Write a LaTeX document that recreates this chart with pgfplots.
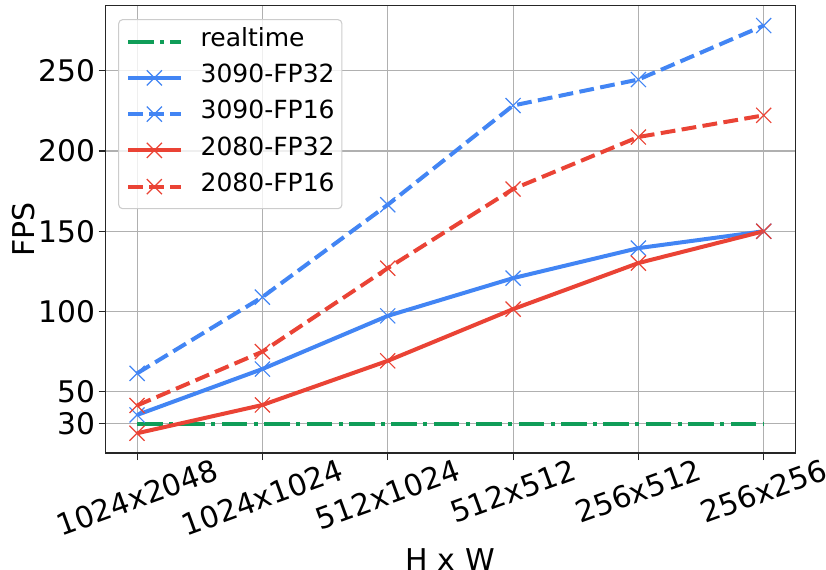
\documentclass[border=0pt]{standalone}
\usepackage{fontspec}
\setmainfont{DejaVu Sans}
\usepackage{graphicx}
\usepackage{pgfplots}
\pgfplotsset{compat=1.18}
\definecolor{gblue}{HTML}{4285F4}
\definecolor{gred}{HTML}{EA4335}
\definecolor{ggreen}{HTML}{0F9D58}
\definecolor{gridgray}{HTML}{B0B0B0}
\begin{document}
\begin{tikzpicture}
\path[use as bounding box] (-79.3pt,-87pt) rectangle (540.2pt,339.75pt);
\begin{axis}[
  at={(0pt,0pt)}, anchor=south west,
  scale only axis, width=517pt, height=335.5pt,
  xmin=-0.25, xmax=5.25, ymin=11.9, ymax=290.5,
  xtick={0,1,2,3,4,5},
  xticklabels={\rotatebox{20}{1024x2048},\rotatebox{20}{1024x1024},\rotatebox{20}{512x1024},\rotatebox{20}{512x512},\rotatebox{20}{256x512},\rotatebox{20}{256x256}},
  ytick={30,50,100,150,200,250},
  grid=major, grid style={gridgray, line width=0.8pt},
  axis line style={black!85, line width=0.8pt},
  tick style={black!85, line width=0.8pt},
  tick align=outside, major tick length=5.25pt,
  xtick pos=bottom, ytick pos=left,
  /pgf/number format/assume math mode=true,
  ticklabel style={font=\fontsize{22.3}{26}\selectfont},
  xticklabel style={anchor=north, inner sep=0pt, yshift=1.5pt},
  yticklabel style={anchor=east, inner sep=0pt, xshift=-2.5pt},
  ylabel={FPS}, xlabel={H x W},
  every axis y label/.style={at={(axis description cs:-0.1186,0.5)}, anchor=center, rotate=90, font=\fontsize{22.5}{26}\selectfont},
  every axis x label/.style={at={(axis description cs:0.5,-0.2625)}, anchor=base, font=\fontsize{22.5}{26}\selectfont},
  legend style={at={(axis description cs:0.018,0.970)}, anchor=north west,
    draw=black!20, line width=0.8pt, fill=white, fill opacity=0.8, draw opacity=1, text opacity=1,
    rounded corners=3pt, font=\fontsize{18.75}{22}\selectfont,
    inner xsep=5.5pt, inner ysep=7pt, row sep=8.2pt, column sep=13.5pt,
    nodes={inner sep=0pt, text height=13pt, text depth=6pt}},
  legend cell align=left,
  legend image code/.code={\draw[mark repeat=2,mark phase=2,#1] plot coordinates {(0pt,0pt)(19.75pt,0pt)(39.5pt,0pt)};},
]
\addplot[ggreen, line width=3pt, dash pattern=on 19.2pt off 4.8pt on 3pt off 4.8pt]
  coordinates {(0,30)(1,30)(2,30)(3,30)(4,30)(5,30)};
\addlegendentry{realtime}
\addplot[gblue, line width=3pt, mark=x, mark size=8pt, mark options={solid, line width=0.9pt}]
  coordinates {(0,35.6)(1,64.2)(2,97.3)(3,120.8)(4,139.5)(5,150)};
\addlegendentry{3090-FP32}
\addplot[gblue, line width=3pt, dash pattern=on 11.1pt off 4.8pt, mark=x, mark size=8pt, mark options={solid, line width=0.9pt}]
  coordinates {(0,61.5)(1,109)(2,166.5)(3,228.3)(4,244.5)(5,278.1)};
\addlegendentry{3090-FP16}
\addplot[gred, line width=3pt, mark=x, mark size=8pt, mark options={solid, line width=0.9pt}]
  coordinates {(0,24.2)(1,41.8)(2,69.3)(3,101.5)(4,130.2)(5,150)};
\addlegendentry{2080-FP32}
\addplot[gred, line width=3pt, dash pattern=on 11.1pt off 4.8pt, mark=x, mark size=8pt, mark options={solid, line width=0.9pt}]
  coordinates {(0,41.5)(1,75)(2,127)(3,176.3)(4,208.7)(5,222.2)};
\addlegendentry{2080-FP16}
\end{axis}
\end{tikzpicture}
\end{document}
